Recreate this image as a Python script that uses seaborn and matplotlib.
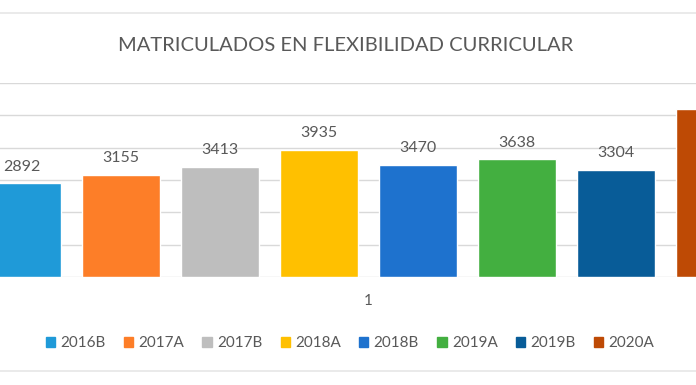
import matplotlib
matplotlib.use("Agg")
import matplotlib.pyplot as plt
import pandas as pd
import seaborn as sns
from matplotlib.lines import Line2D

# Values (2020A label is cropped)
periods = ["2016B", "2017A", "2017B", "2018A", "2018B", "2019A", "2019B", "2020A"]
students = [2892, 3155, 3413, 3935, 3470, 3638, 3304, 5200]
category = ["1"] * len(periods)
colors = ["#1F9AD8", "#FD7E28", "#BEBEBE", "#FFC000",
          "#1E72CE", "#43AF40", "#085C98", "#BE4A05"]

df = pd.DataFrame({"cat": category, "periodo": periods, "valor": students})

sns.set_theme(style="white")
plt.rcParams["font.family"] = ["Lato", "DejaVu Sans"]
TXT = "#595959"

fig = plt.figure(figsize=(6.96, 3.85), dpi=100)
# the original image is a crop of a wider Excel chart, so the axes run off both sides
ax = fig.add_axes([-0.1818, 0.2805, 1.4224, 0.5039])

sns.barplot(
    data=df, x="cat", y="valor", hue="periodo", hue_order=periods,
    palette=colors, width=0.8, gap=0.22, saturation=1, legend=False, ax=ax,
)

ax.set_ylim(0, 6000)
ax.set_xlim(-0.5, 0.5)
ax.set_yticks(range(0, 6001, 1000))
ax.yaxis.grid(True, color="#D9D9D9", linewidth=1)
ax.set_axisbelow(True)
for s in ax.spines.values():
    s.set_visible(False)
ax.tick_params(axis="y", left=False, labelleft=False)
ax.tick_params(axis="x", bottom=False, labelsize=11, labelcolor=TXT, pad=6)
ax.set_xlabel("")
ax.set_ylabel("")

# the last bar's label falls outside the cropped picture, so it is left off
for container in ax.containers[:-1]:
    ax.bar_label(container, fmt="%d", padding=7, fontsize=11.5, color=TXT)

fig.text(0.497, 0.883, "MATRICULADOS EN FLEXIBILIDAD CURRICULAR",
         ha="center", va="center", fontsize=14.5, color=TXT)

handles = [plt.Rectangle((0, 0), 1, 1, color=c) for c in colors]
fig.legend(handles, periods, loc="center", bbox_to_anchor=(0.503, 0.108),
           ncol=8, frameon=False, fontsize=11, labelcolor=TXT,
           handlelength=0.6, handleheight=0.6, handletextpad=0.35,
           columnspacing=1.2)

# chart border lines visible at top and bottom of the crop
fig.add_artist(Line2D([0, 1], [1 - 13 / 385, 1 - 13 / 385],
                      color="#E6E6E6", linewidth=1.2))
fig.add_artist(Line2D([0, 1], [1 - 371 / 385, 1 - 371 / 385],
                      color="#E6E6E6", linewidth=1.2))

fig.savefig("out.png", dpi=100, facecolor="white")
